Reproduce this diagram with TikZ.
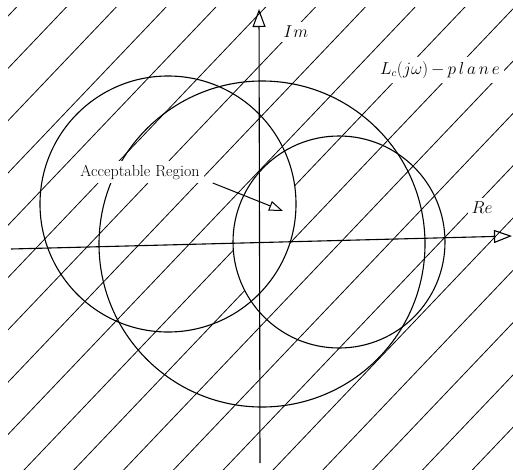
\documentclass[tikz,border=0pt]{standalone}
\usepackage{fontspec}
\usetikzlibrary{arrows.meta}
\begin{document}
\begin{tikzpicture}[x=1pt,y=-1pt,
  curve/.style={line width=1.1pt},
  hatchline/.style={line width=0.8pt},
  axis/.style={line width=1.1pt,-{Triangle[open,length=18pt,width=13pt,line width=1.1pt]}},
  ptr/.style={line width=1pt,-{Triangle[open,length=14pt,width=10pt,line width=1pt]}},
  lbl/.style={fill=white,inner sep=4pt,font=\fontsize{16}{19}\selectfont}]
\useasboundingbox (0,0) rectangle (513,471);
% hatching
\begin{scope}
  \clip (8,7) rectangle (513,469);
  \foreach \k in {0,...,19}{
    \pgfmathsetmacro{\c}{24.5+52.3*\k}
    \draw[hatchline] (-60,\c+63) -- (620,\c-651);
  }
\end{scope}
% centres
\coordinate (cl) at (168,204);
\coordinate (cb) at (262,244);
\coordinate (cs) at (339,242);
% acceptable region (no hatching)
\begin{scope}
  \clip (cl) circle[radius=128];
  \clip (cb) circle[radius=163];
  \fill[white] (cs) circle[radius=106];
\end{scope}
% circles
\draw[curve] (cl) circle[radius=128];
\draw[curve] (cb) circle[radius=163];
\draw[curve] (cs) circle[radius=106];
% axes
\coordinate (xl) at (11,249);
\coordinate (xr) at (512,236);
\coordinate (yb) at (260,463);
\coordinate (yt) at (259,9);
\draw[axis] (xl) -- (xr);
\draw[axis] (yb) -- (yt);
% labels
\node[lbl] (im) at (296,32) {$I\mkern1mu m$};
\node[lbl] (re) at (482,208) {$Re$};
\node[lbl,anchor=west] (lc) at (376,70) {$L_c(j\omega)\,{-}\,p\,l\,a\,n\,e$};
\node[lbl] (acc) at (140,172) {\addfontfeature{LetterSpace=4}Acceptable Region};
\coordinate (acctip) at (283,211);
\draw[ptr] ([xshift=9pt,yshift=-11pt]acc.east) -- (acctip);
\end{tikzpicture}
\end{document}
